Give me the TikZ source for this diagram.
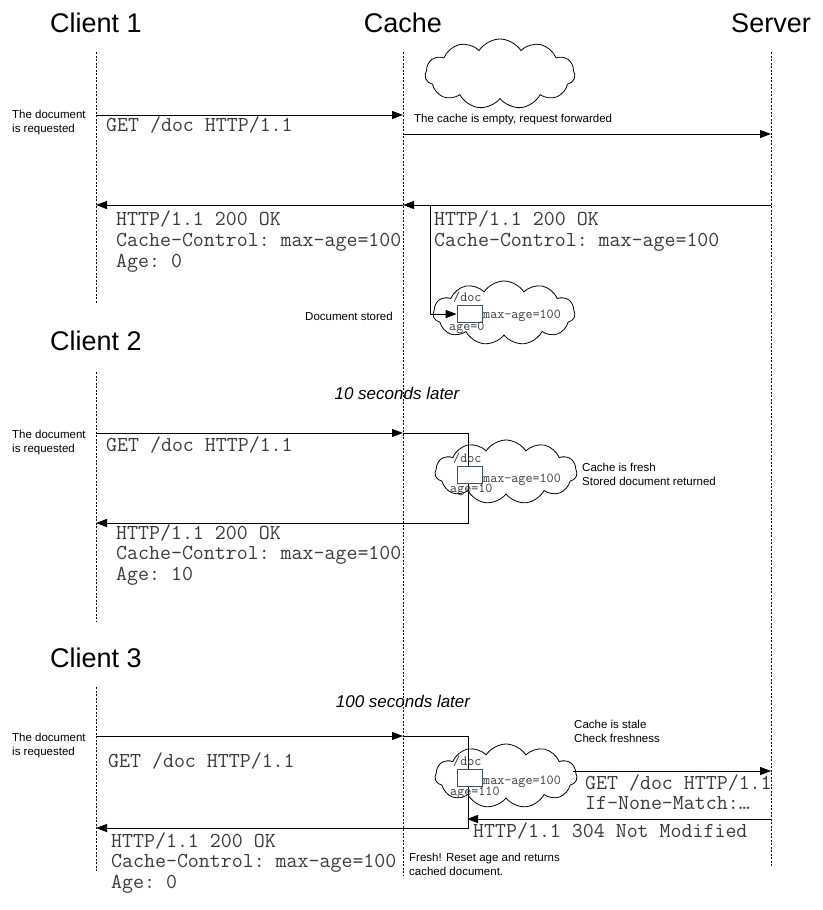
\documentclass[tikz,border=0pt]{standalone}
\usepackage{fontspec}
\setmainfont{Liberation Sans}
\usetikzlibrary{shapes.symbols,arrows.meta}
\definecolor{codegray}{HTML}{3A3A3A}
\definecolor{docblue}{HTML}{3B5275}
\tikzset{
  life/.style={line width=0.7pt, dash pattern=on 2pt off 1.5pt},
  msg/.style={line width=0.9pt, -{Triangle[length=11pt,width=8pt]}},
  wire/.style={line width=0.9pt},
  title/.style={font=\fontsize{27}{30}\selectfont, anchor=base, inner sep=0},
  later/.style={font=\itshape\fontsize{17}{20}\selectfont, anchor=base, inner sep=0},
  note/.style={font=\fontsize{11.5}{14}\selectfont, anchor=base west, inner sep=0},
  code/.style={font=\ttfamily\frenchspacing\fontsize{21.3}{22}\selectfont, text=codegray, anchor=base west, inner sep=0},
  tiny/.style={font=\ttfamily\fontsize{13.7}{15}\selectfont, text=codegray, anchor=base west, inner sep=0},
  store/.style={cloud, draw, cloud puffs=11, cloud puff arc=115, cloud ignores aspect, line width=0.8pt, minimum width=142pt, minimum height=64pt, inner sep=0},
  docbox/.style={draw=docblue, fill=white, line width=0.8pt, minimum width=25pt, minimum height=17pt, inner sep=0}
}
\begin{document}
\begin{tikzpicture}[x=1pt,y=-1pt]
\useasboundingbox (0,0) rectangle (822,910);
% titles
\node[title] (t1) at (96,32) {Client 1};
\node[title] (tc) at (403,32) {Cache};
\node[title] (ts) at (771,32) {Server};
\node[title] (t2) at (96,350) {Client 2};
\node[title] (t3) at (96,667) {Client 3};
% lifelines
\coordinate (c1a) at (96,52);  \coordinate (c1b) at (96,303);
\coordinate (c2a) at (96,372); \coordinate (c2b) at (96,622);
\coordinate (c3a) at (96,687); \coordinate (c3b) at (96,871);
\coordinate (ka) at (403,52);  \coordinate (kb) at (403,876);
\coordinate (sa) at (771,52);  \coordinate (sb) at (771,866);
\draw[life] (c1a) -- (c1b);
\draw[life] (c2a) -- (c2b);
\draw[life] (c3a) -- (c3b);
\draw[life] (ka) -- (kb);
\draw[life] (sa) -- (sb);

% ===== Client 1 =====
\node[store, minimum width=150pt, minimum height=70pt] (cloud0) at (500,74) {};
\coordinate (r1c) at (96,115); \coordinate (r1k) at (403,115);
\draw[msg] (r1c) -- (r1k);
\node[note] (n1a) at (12,118) {The document};
\node[note] (n1b) at (12,132) {is requested};
\node[code] (g1) at (106,131) {GET /doc HTTP/1.1};
\node[note] (fw) at (414,122) {The cache is empty, request forwarded};
\coordinate (f1k) at (403,134); \coordinate (f1s) at (771,134);
\draw[msg] (f1k) -- (f1s);
\coordinate (a1s) at (771,205); \coordinate (a1k) at (403,205); \coordinate (a1c) at (96,205);
\draw[msg] (a1s) -- (a1k);
\draw[msg] (a1k) -- (a1c);
\node[code] (h1a) at (116,225) {HTTP/1.1 200 OK};
\node[code] (h1b) at (116,246) {Cache-Control: max-age=100};
\node[code] (h1c) at (116,267) {Age: 0};
\node[code] (s1a) at (434,225) {HTTP/1.1 200 OK};
\node[code] (s1b) at (434,246) {Cache-Control: max-age=100};
\node[store] (cloud1) at (504,313) {};
\node[docbox] (doc1) at (469.5,314) {};
\coordinate (st1) at (430,205); \coordinate (st2) at (430,314);
\draw[wire] (st1) -- (st2);
\draw[msg] (st2) -- (doc1.west);
\node[tiny] (d1) at (453,301) {/doc};
\node[tiny] (m1) at (483,318) {max-age=100};
\node[tiny] (ag1) at (449,330) {age=0};
\node[note] (ds) at (305,320) {Document stored};

% ===== Client 2 =====
\node[later] (l10) at (397,399) {10 seconds later};
\node[note] (n2a) at (12,438) {The document};
\node[note] (n2b) at (12,452) {is requested};
\coordinate (r2c) at (96,433); \coordinate (r2k) at (403,433);
\coordinate (r2x) at (468,433); \coordinate (r2y) at (468,523);
\coordinate (r2z) at (96,523);
\node[store] (cloud2) at (506,472) {};
\draw[msg] (r2c) -- (r2k);
\draw[msg] (r2k) -- (r2x) -- (r2y) -- (r2z);
\node[docbox] (doc2) at (469.5,475) {};
\node[tiny] (d2) at (453,462) {/doc};
\node[tiny] (m2) at (483,482) {max-age=100};
\node[tiny] (ag2) at (450,492) {age=10};
\node[note] (cf1) at (582,471) {Cache is fresh};
\node[note] (cf2) at (582,485) {Stored document returned};
\node[code] (g2) at (106,451) {GET /doc HTTP/1.1};
\node[code] (h2a) at (116,539) {HTTP/1.1 200 OK};
\node[code] (h2b) at (116,559) {Cache-Control: max-age=100};
\node[code] (h2c) at (116,580) {Age: 10};

% ===== Client 3 =====
\node[later] (l100) at (403,707) {100 seconds later};
\node[note] (n3a) at (12,741) {The document};
\node[note] (n3b) at (12,755) {is requested};
\coordinate (r3c) at (96,736); \coordinate (r3k) at (403,736);
\coordinate (r3x) at (468,736); \coordinate (r3y) at (468,828);
\coordinate (r3z) at (96,828);
\node[store] (cloud3) at (506,776) {};
\draw[msg] (r3c) -- (r3k);
\draw[msg] (r3k) -- (r3x) -- (r3y) -- (r3z);
\node[docbox] (doc3) at (469.5,777.5) {};
\node[tiny] (d3) at (453,765) {/doc};
\node[tiny] (m3) at (483,784) {max-age=100};
\node[tiny] (ag3) at (450,795) {age=110};
\node[note] (cs1) at (574,728) {Cache is stale};
\node[note] (cs2) at (574,742) {Check freshness};
\coordinate (v1) at (573,771); \coordinate (v2) at (771,771);
\draw[msg] (v1) -- (v2);
\node[code] (g3s) at (585,789) {GET /doc HTTP/1.1};
\node[code] (inm) at (585,809) {If-None-Match:\ldots};
\coordinate (nm1) at (771,819); \coordinate (nm2) at (467,819);
\draw[msg] (nm1) -- (nm2);
\node[code] (nm) at (473,837) {HTTP/1.1 304 Not Modified};
\node[code] (g3) at (108,767) {GET /doc HTTP/1.1};
\node[code] (h3a) at (111,847) {HTTP/1.1 200 OK};
\node[code] (h3b) at (111,867) {Cache-Control: max-age=100};
\node[code] (h3c) at (111,888) {Age: 0};
\node[note] (fr1) at (409,861) {Fresh! Reset age and returns};
\node[note] (fr2) at (409,875) {cached document.};
\end{tikzpicture}
\end{document}
